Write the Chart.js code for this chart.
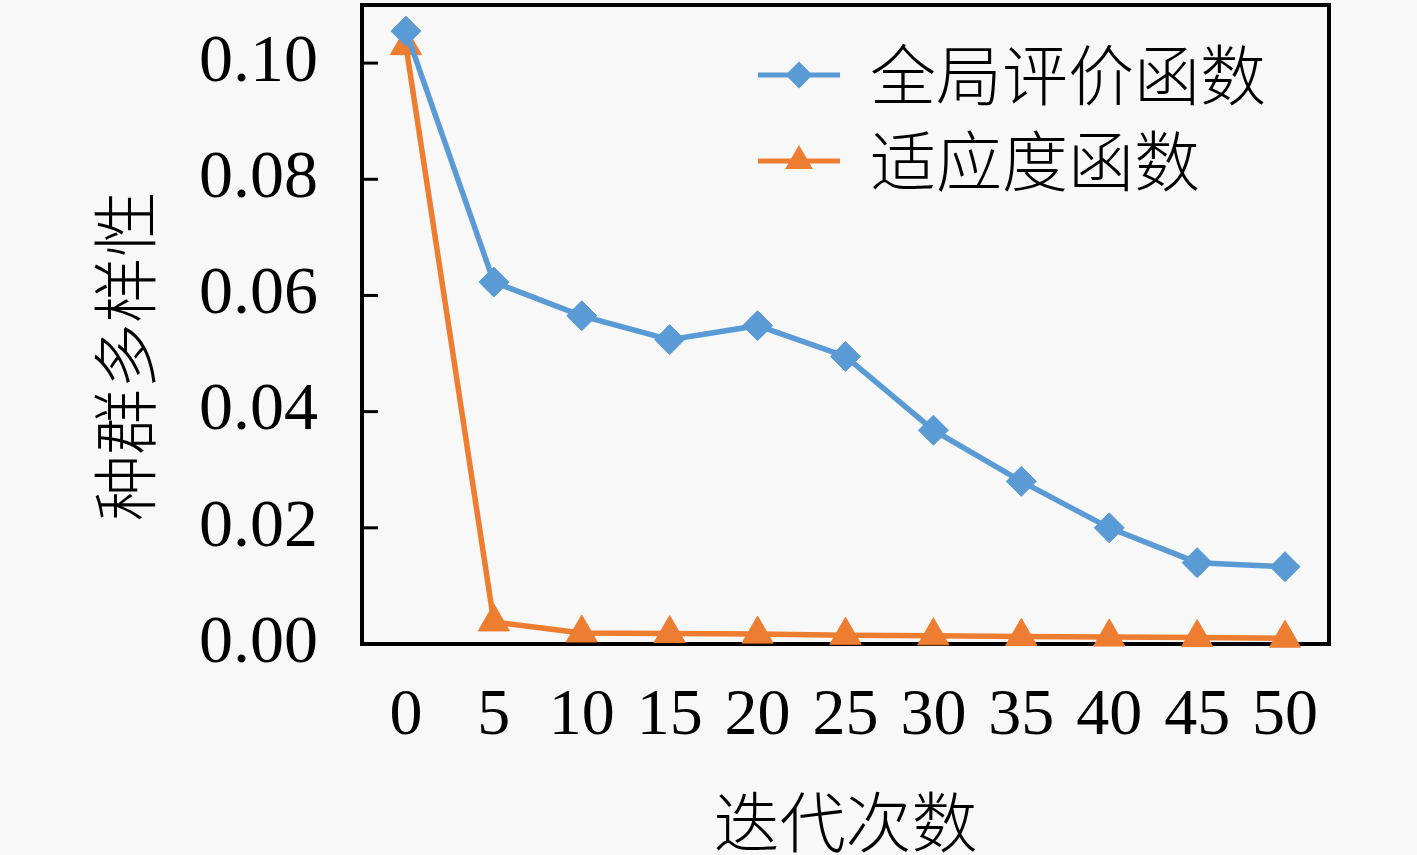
<!DOCTYPE html>
<html>
<head>
<meta charset="utf-8">
<script src="https://cdn.jsdelivr.net/npm/chart.js@4.4.1/dist/chart.umd.min.js"></script>
<style>
  html, body { margin: 0; padding: 0; background: #f8f8f8; }
  #wrap { width: 1417px; height: 855px; position: relative; }
</style>
</head>
<body>
<div id="wrap"><canvas id="diversityChart"></canvas></div>
<script>
// 迭代次数
var iterations = ['0', '5', '10', '15', '20', '25', '30', '35', '40', '45', '50'];
// 全局评价函数
var globalEval = [0.1055, 0.0623, 0.0565, 0.0524, 0.0548, 0.0495, 0.0368, 0.0280, 0.0200, 0.0140, 0.0133];
// 适应度函数
var fitnessFunc = [0.1030, 0.0038, 0.0019, 0.0018, 0.0017, 0.0015, 0.0014, 0.0013, 0.0012, 0.0011, 0.0010];
var seriesNames = ['全局评价函数', '适应度函数'];
var yTitle = '种群多样性';
var xTitle = '迭代次数';

var blue = '#5B9BD5';
var orange = '#ED7D31';
var cjk = '"Noto Sans CJK SC", "Noto Sans CJK JP", sans-serif';
var serif = '"Liberation Serif", "DejaVu Serif", serif';

// box, inward y ticks, rotated y title and legend
var decorPlugin = {
    id: 'decor',
    beforeDatasetsDraw: function(chart) {
        var ctx = chart.ctx;
        var a = chart.chartArea;
        var ys = chart.scales.y;
        ctx.save();
        ctx.strokeStyle = '#000';
        ctx.lineWidth = 4;
        ctx.beginPath();
        ctx.moveTo(a.left - 2, a.top);
        ctx.lineTo(a.right, a.top);
        ctx.lineTo(a.right, a.bottom + 2);
        ctx.stroke();
        ctx.lineWidth = 3;
        ys.ticks.forEach(function(t) {
            var y = ys.getPixelForValue(t.value);
            if (t.value === 0) return;
            ctx.beginPath();
            ctx.moveTo(a.left, y);
            ctx.lineTo(a.left + 16, y);
            ctx.stroke();
        });
        ctx.restore();
    },
    afterDraw: function(chart) {
        var ctx = chart.ctx;
        ctx.save();
        // y axis title
        ctx.fillStyle = '#000';
        ctx.font = '300 66px ' + cjk;
        ctx.textAlign = 'center';
        ctx.textBaseline = 'middle';
        ctx.translate(125, 356);
        ctx.rotate(-Math.PI / 2);
        ctx.fillText(yTitle, 0, 0);
        ctx.restore();

        // legend
        ctx.save();
        var rows = [75, 161];
        chart.data.datasets.forEach(function(ds, i) {
            var y = rows[i];
            ctx.strokeStyle = ds.borderColor;
            ctx.lineWidth = 5;
            ctx.beginPath();
            ctx.moveTo(758, y);
            ctx.lineTo(840, y);
            ctx.stroke();
            ctx.fillStyle = ds.backgroundColor;
            ctx.strokeStyle = ds.borderColor;
            Chart.helpers.drawPoint(ctx, {
                pointStyle: ds.pointStyle,
                radius: ds.pointStyle === 'triangle' ? 11 : 10,
                rotation: 0,
                borderWidth: 1
            }, 799, y);
            ctx.fillStyle = '#000';
            ctx.font = '300 66px ' + cjk;
            ctx.textAlign = 'left';
            ctx.textBaseline = 'middle';
            ctx.fillText(ds.label, 870, y);
        });
        ctx.restore();
    }
};

new Chart(document.getElementById('diversityChart'), {
    type: 'line',
    data: {
        labels: iterations,
        datasets: [{
            label: seriesNames[0],
            data: globalEval,
            borderColor: blue,
            backgroundColor: blue,
            borderWidth: 5.5,
            pointStyle: 'rectRot',
            pointRadius: 15,
            pointHoverRadius: 15,
            pointBorderWidth: 1,
            tension: 0,
            clip: false
        }, {
            label: seriesNames[1],
            data: fitnessFunc,
            borderColor: orange,
            backgroundColor: orange,
            borderWidth: 5.5,
            pointStyle: 'triangle',
            pointRadius: 18,
            pointHoverRadius: 18,
            pointBorderWidth: 1,
            tension: 0,
            clip: false
        }]
    },
    options: {
        responsive: true,
        maintainAspectRatio: false,
        animation: false,
        devicePixelRatio: 1,
        layout: { autoPadding: false, padding: { top: 5, right: 88, left: 0, bottom: 0 } },
        plugins: {
            legend: { display: false },
            tooltip: { enabled: false }
        },
        scales: {
            x: {
                type: 'category',
                offset: true,
                grid: { display: false, drawTicks: false },
                border: { display: true, color: '#000', width: 4 },
                ticks: {
                    color: '#000',
                    padding: 40,
                    maxRotation: 0,
                    autoSkip: false,
                    font: { family: serif, size: 66, lineHeight: 1 }
                },
                title: {
                    display: true,
                    text: xTitle,
                    color: '#000',
                    font: { family: cjk, size: 66, weight: '300', lineHeight: 1 },
                    padding: { top: 0, bottom: 0 }
                },
                afterFit: function(scale) {
                    scale.height = 211;
                    scale.paddingLeft = 0;
                    scale.paddingRight = 0;
                }
            },
            y: {
                min: 0,
                max: 0.11,
                grid: { display: false, drawTicks: false },
                border: { display: true, color: '#000', width: 4 },
                ticks: {
                    stepSize: 0.02,
                    includeBounds: false,
                    color: '#000',
                    padding: 44,
                    font: { family: serif, size: 68, lineHeight: 1 },
                    callback: function(v) { return Number(v).toFixed(2); }
                },
                afterFit: function(scale) {
                    scale.width = 362;
                    scale.paddingTop = 0;
                    scale.paddingBottom = 0;
                }
            }
        }
    },
    plugins: [decorPlugin]
});
</script>
</body>
</html>
